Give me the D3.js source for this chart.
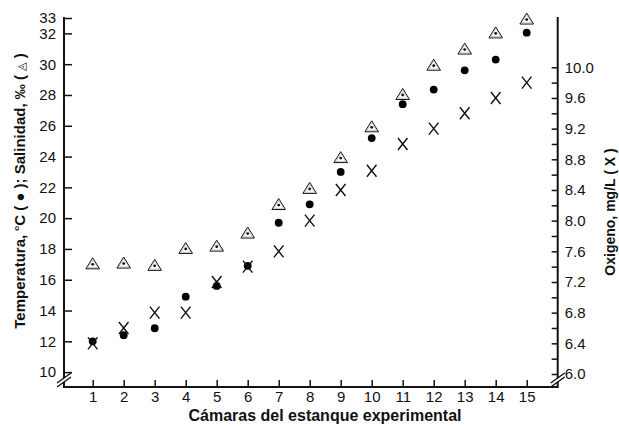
<!DOCTYPE html>
<html>
<head>
<meta charset="utf-8">
<script src="https://cdn.jsdelivr.net/npm/d3@7"></script>
<style>
  body { margin: 0; background: #fff; }
  svg { font-family: "Liberation Sans", Arial, sans-serif; }
  .tick text { font-size: 15px; fill: #111; }
  .tick line { stroke: #111; stroke-width: 1.5px; }
</style>
</head>
<body>
<div id="chart-area"></div>
<script>
// data
const chambers = [1, 2, 3, 4, 5, 6, 7, 8, 9, 10, 11, 12, 13, 14, 15];
const temperature = [12, 12.4, 12.85, 14.9, 15.6, 16.9, 19.7, 20.9, 23.0, 25.2, 27.4, 28.35, 29.6, 30.3, 32.05];
const salinity = [17, 17.05, 16.9, 18, 18.15, 19, 20.85, 21.9, 23.9, 25.9, 28, 29.9, 30.95, 32, 32.9];
const oxygen = [6.4, 6.6, 6.8, 6.8, 7.2, 7.4, 7.6, 8.0, 8.4, 8.65, 9.0, 9.2, 9.4, 9.6, 9.8];

const leftTicks = [10, 12, 14, 16, 18, 20, 22, 24, 26, 28, 30, 32, 33];
const rightTicks = [6.0, 6.4, 6.8, 7.2, 7.6, 8.0, 8.4, 8.8, 9.2, 9.6, 10.0];
const rightMinor = [6.2, 6.6, 7.0, 7.4, 7.8, 8.2, 8.6, 9.0, 9.4, 9.8];

const width = 619, height = 426;
const axisLeftX = 64, axisRightX = 557.7, axisTop = 17, axisBottom = 387;

const svg = d3.select("#chart-area").append("svg")
    .attr("width", width)
    .attr("height", height);

const x = d3.scaleLinear().domain([1, 15]).range([92.7, 526.7]);
const yL = d3.scaleLinear().domain([9, 33]).range([387.5, 18]);
const yR = d3.scaleLinear().domain([6, 10]).range([374, 67.3]);

// axes (ticks pointing inward)
svg.append("g")
    .attr("transform", "translate(" + axisLeftX + ",0)")
    .call(d3.axisLeft(yL).tickValues(leftTicks).tickSizeInner(-8).tickSizeOuter(0).tickPadding(8))
    .call(g => g.select(".domain").remove());

svg.append("g")
    .attr("transform", "translate(" + axisRightX + ",0)")
    .call(d3.axisRight(yR).tickValues(rightTicks).tickFormat(d3.format(".1f"))
        .tickSizeInner(-6).tickSizeOuter(0).tickPadding(7))
    .call(g => g.select(".domain").remove());

svg.append("g")
    .attr("transform", "translate(" + axisRightX + ",0)")
    .call(d3.axisRight(yR).tickValues(rightMinor).tickFormat("").tickSizeInner(-6).tickSizeOuter(0))
    .call(g => g.select(".domain").remove());

svg.append("g")
    .attr("transform", "translate(0," + axisBottom + ")")
    .call(d3.axisBottom(x).tickValues(chambers).tickSizeInner(-7).tickSizeOuter(0).tickPadding(4))
    .call(g => g.select(".domain").remove());

// axis lines
const axisLines = svg.append("g").attr("stroke", "#111").attr("stroke-width", 2).attr("fill", "none");
axisLines.append("path").attr("d", "M" + axisLeftX + "," + axisTop + "V" + axisBottom + "H" + axisRightX + "V" + axisTop);

// axis breaks
function axisBreak(cx, cy) {
    const g = svg.append("g").attr("transform", "translate(" + cx + "," + cy + ")");
    g.append("path").attr("d", "M-7,3L7,-7L7,-3L-7,7Z").attr("fill", "#fff");
    g.append("path").attr("d", "M-7,3L7,-7M-7,7L7,-3")
        .attr("stroke", "#111").attr("stroke-width", 1.4).attr("fill", "none");
}
axisBreak(axisLeftX, 380);
axisBreak(axisRightX, 380);

// salinity: triangle with dot
const tri = svg.append("g").selectAll("g")
    .data(chambers)
    .enter().append("g")
    .attr("transform", (d, i) => "translate(" + x(d) + "," + yL(salinity[i]) + ")");
tri.append("path")
    .attr("d", "M0,-6.5L6.8,4.5L-6.8,4.5Z")
    .attr("fill", "#fff").attr("stroke", "#111").attr("stroke-width", 1);
tri.append("path")
    .attr("d", "M0,-4.6L5,3.3L-5,3.3Z")
    .attr("fill", "none").attr("stroke", "#aaa").attr("stroke-width", 0.7);
tri.append("circle").attr("r", 1.4).attr("fill", "#111");

// temperature: filled dots
svg.append("g").selectAll("circle")
    .data(chambers)
    .enter().append("circle")
    .attr("cx", d => x(d))
    .attr("cy", (d, i) => yL(temperature[i]))
    .attr("r", 3.9)
    .attr("fill", "#000");

// oxygen: X marks
svg.append("g").selectAll("path")
    .data(chambers)
    .enter().append("path")
    .attr("transform", (d, i) => "translate(" + x(d) + "," + yR(oxygen[i]) + ")")
    .attr("d", "M-4.8,-6L4.8,6M4.8,-6L-4.8,6")
    .attr("stroke", "#111").attr("stroke-width", 1.4).attr("fill", "none");

// titles
svg.append("text")
    .attr("x", 325)
    .attr("y", 421)
    .attr("text-anchor", "middle")
    .attr("style", "font-size: 16px; font-weight: bold; fill: #111")
    .text("Cámaras del estanque experimental");

const leftTitle = svg.append("text")
    .attr("transform", "translate(25,191) rotate(-90)")
    .attr("text-anchor", "middle")
    .attr("style", "font-size: 15px; font-weight: bold; fill: #111");
leftTitle.append("tspan").text("Temperatura, ");
leftTitle.append("tspan").attr("dy", -6).attr("style", "font-size: 8px").text("o");
leftTitle.append("tspan").attr("dy", 6).text("C ( ● ); Salinidad, ‰ ( ");
leftTitle.append("tspan").attr("style", "font-family: 'DejaVu Sans'; font-weight: normal; font-size: 11px").text("◬");
leftTitle.append("tspan").text(" )");

svg.append("text")
    .attr("transform", "translate(615,212) rotate(-90)")
    .attr("text-anchor", "middle")
    .attr("style", "font-size: 14px; font-weight: bold; fill: #111")
    .text("Oxigeno, mg/L ( X )");
</script>
</body>
</html>
